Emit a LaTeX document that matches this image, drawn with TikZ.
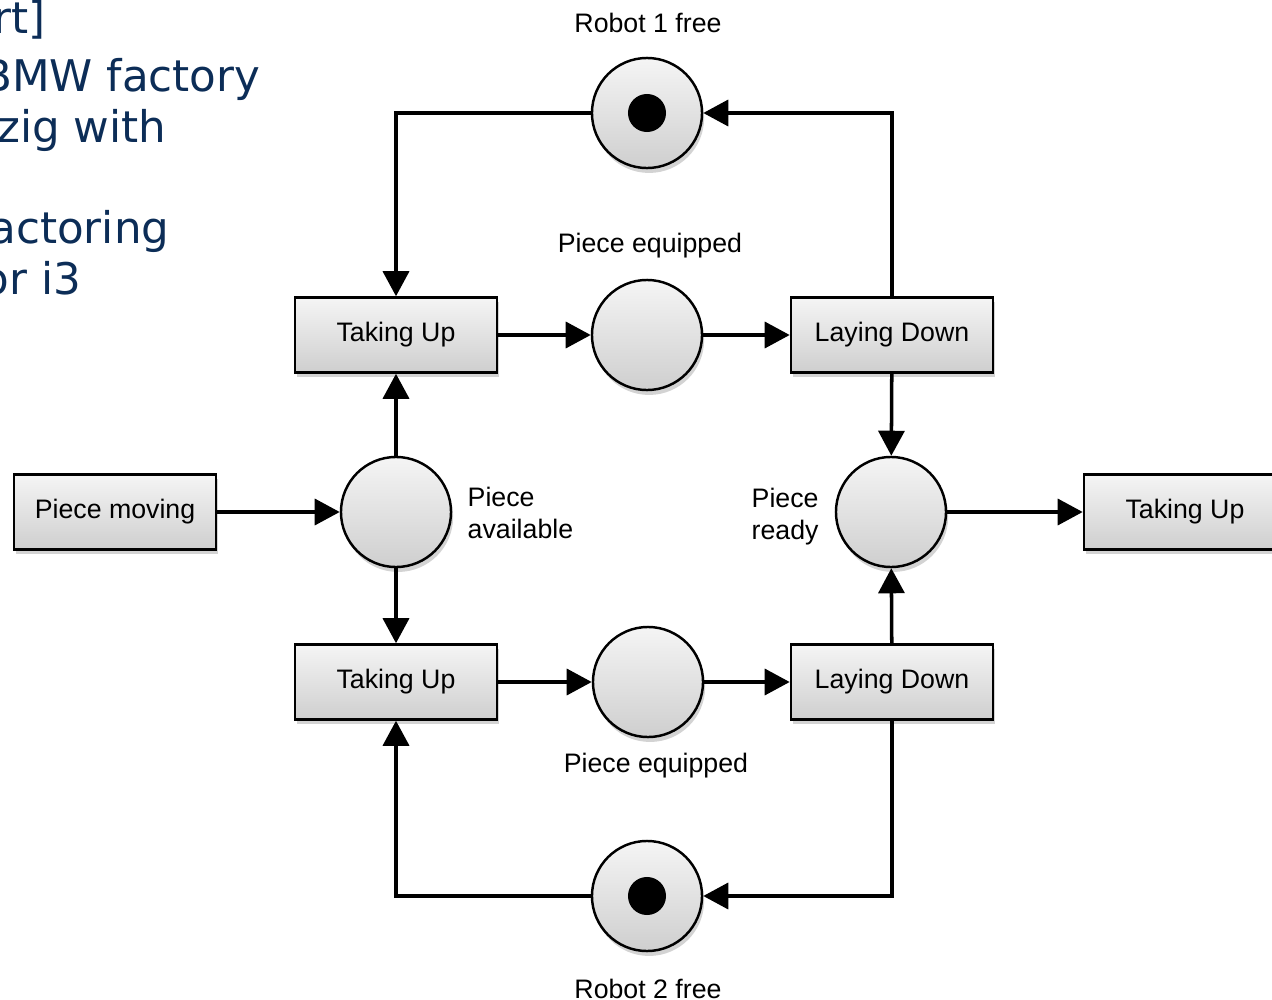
\documentclass[tikz,border=0pt]{standalone}
\usepackage{fontspec}
\setmainfont{Liberation Sans}
\newfontfamily\slidefont{DejaVu Sans}
\usetikzlibrary{arrows.meta,positioning,shadows}
\definecolor{slidetext}{HTML}{0C2D57}
\tikzset{
  trans/.style={draw=black, line width=0.7pt, minimum width=2.02cm, minimum height=0.75cm,
    top color=gray!8, bottom color=gray!38, inner sep=0pt,
    drop shadow={opacity=0.35, shadow xshift=0.6pt, shadow yshift=-1.4pt}},
  place/.style={circle, draw=black, line width=0.7pt, minimum size=1.1cm, inner sep=0pt,
    top color=gray!8, bottom color=gray!38,
    drop shadow={opacity=0.35, shadow xshift=0.6pt, shadow yshift=-1.4pt}},
  token/.style={circle, fill=black, minimum size=0.38cm, inner sep=0pt},
  arc/.style={-{Triangle[length=0.25cm, width=0.26cm]}, line width=1pt},
  plabel/.style={font=\fontsize{7.6}{9.1}\selectfont, inner sep=0pt},
  slide/.style={font=\slidefont\fontsize{12.4}{15}\selectfont, text=slidetext, anchor=base east, inner sep=0pt},
}
\begin{document}
\begin{tikzpicture}[x=0.01cm, y=-0.01cm]
  \useasboundingbox (0,0) rectangle (1272,1000);

  % slide text behind the net
  \node[slide] (s1) at (46,33) {rt]};
  \node[slide] (s2) at (261,91) {BMW factory};
  \node[slide] (s3) at (167,143) {pzig with};
  \node[slide] (s4) at (170,243) {actoring};
  \node[slide] (s5) at (82,294) {or i3};

  % places
  \node[place] (r1) at (647,113) {};
  \node[place] (pe1) at (647,335) {};
  \node[place] (pa) at (396,512) {};
  \node[place] (pr) at (891,512) {};
  \node[place] (pe2) at (648,682) {};
  \node[place] (r2) at (647,896) {};
  \node[token] (tok1) at (r1) {};
  \node[token] (tok2) at (r2) {};

  % transitions
  \node[trans, plabel] (tu1) at (396,335) {Taking Up};
  \node[trans, plabel] (ld1) at (892,335) {Laying Down};
  \node[trans, plabel] (pm) at (115,512) {Piece moving};
  \node[trans, plabel] (tu3) at (1185,512) {Taking Up};
  \node[trans, plabel] (tu2) at (396,682) {Taking Up};
  \node[trans, plabel] (ld2) at (892,682) {Laying Down};

  % labels
  \node[plabel] (lr1) at (648,23) {Robot 1 free};
  \node[plabel] (lpe1) at (650,246) {Piece equipped};
  \node[plabel, align=left, anchor=west] (lpa) at (467,513) {Piece\\available};
  \node[plabel, align=left, anchor=west] (lpr) at (751,517) {Piece\\ready};
  \node[plabel] (lpe2) at (656,766) {Piece equipped};
  \node[plabel] (lr2) at (648,989) {Robot 2 free};

  % upper robot
  \draw[arc] (r1) -| (tu1);
  \draw[arc] (ld1) |- (r1);
  \draw[arc] (tu1) -- (pe1);
  \draw[arc] (pe1) -- (ld1);

  % lower robot
  \draw[arc] (r2) -| (tu2);
  \draw[arc] (ld2) |- (r2);
  \draw[arc] (tu2) -- (pe2);
  \draw[arc] (pe2) -- (ld2);

  % in and out
  \draw[arc] (pm) -- (pa);
  \draw[arc] (pa) -- (tu1);
  \draw[arc] (pa) -- (tu2);
  \draw[arc] (ld1) -- (pr);
  \draw[arc] (ld2) -- (pr);
  \draw[arc] (pr) -- (tu3);
\end{tikzpicture}
\end{document}
